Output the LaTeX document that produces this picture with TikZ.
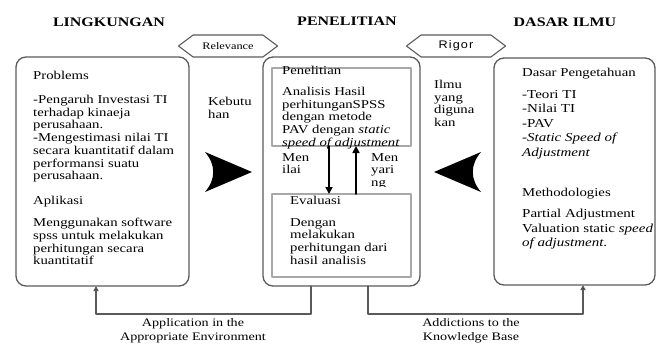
\documentclass[tikz,border=0pt]{standalone}
\usepackage{fontspec}
\setmainfont{Liberation Serif}[FakeStretch=1.23]
\newfontfamily\rigorfont{Liberation Sans}[FakeStretch=1.15,LetterSpace=10]
\usetikzlibrary{arrows.meta, shapes.symbols, positioning}
\definecolor{garis}{HTML}{5A5A5A}
\definecolor{garismuda}{HTML}{A8A8A8}
\tikzset{
  kotak/.style={draw=garis,line width=1.3pt,rounded corners=10pt,inner sep=0pt,outer sep=0pt},
  kotakdalam/.style={draw=garismuda,line width=1.4pt,fill=white,inner sep=0pt,outer sep=0pt},
  teks/.style={anchor=north west,inner sep=0pt,align=left,font=\fontsize{12}{12.7}\selectfont},
  teksbesar/.style={anchor=north west,inner sep=0pt,align=left,font=\fontsize{12.2}{14.5}\selectfont}
}

\begin{document}
\begin{tikzpicture}[
    x=1pt, y=-1pt,
    line cap=round,
    line join=round,
    judul/.style    = {font=\fontsize{13}{14}\selectfont\bfseries, inner sep=0pt},
    segienam/.style = {draw=garis, line width=1.1pt, signal, signal to=west and east,
                       signal pointer angle=74, minimum width=99pt, minimum height=22pt,
                       inner sep=0pt},
    panah/.style    = {line width=1.6pt, -{Triangle[length=7pt,width=7pt]}},
    alur/.style     = {draw=garis, line width=1.2pt, -{Triangle[length=5pt,width=5pt,fill=black]}},
    keterangan/.style = {font=\fontsize{11.5}{14}\selectfont, align=center, inner sep=0pt}
]
\useasboundingbox (0,0) rectangle (659,345);

% ---- judul ----
\node[judul] (tLing) at (109,22) {LINGKUNGAN};
\node[judul] (tPen)  at (347,21) {PENELITIAN};
\node[judul] (tDas)  at (565,22) {DASAR ILMU};

% ---- segi enam ----
\node[segienam, font=\fontsize{10}{11}\selectfont] (relevan) at (228,46) {Relevance};
\node[segienam, font=\fontsize{11}{12}\rigorfont] (rigor) at (456,46) {Rigor};

% ---- kotak lingkungan ----
\node[kotak, minimum width=173pt, minimum height=229pt] (ling) at (102.5,171.5) {};
\node[teks] (problems) at (33,71) {Problems};
\node[teks] (isiProb) at (33,95) {-Pengaruh Investasi TI\\terhadap kinaeja\\perusahaan.\\-Mengestimasi nilai TI\\secara kuantitatif dalam\\performansi suatu\\perusahaan.};
\node[teks] (aplikasi) at (33,196) {Aplikasi};
\node[teks] (isiApl) at (33,218) {Menggunakan software\\spss untuk melakukan\\perhitungan secara\\kuantitatif};

% ---- kotak penelitian ----
\node[kotak, minimum width=157pt, minimum height=229pt] (pen) at (341.5,171.5) {};
\node[kotakdalam, minimum width=139pt, minimum height=78pt] (pen1) at (341.5,107) {};
\node[teks] (penelitian) at (282,66) {Penelitian};
\node[teks] (isiPen) at (282,87) {Analisis Hasil\\perhitunganSPSS\\dengan metode\\PAV dengan \textit{static}\\\textit{speed of adjustment}};
\node[teks] (menilai) at (282,153) {Men\\ilai};
\begin{scope}
  \clip (360,148) rectangle (405,186);
  \node[teks] (menyari) at (371,153) {Men\\yari\\ng};
\end{scope}
\node[kotakdalam, minimum width=139pt, minimum height=83pt] (eval) at (341.5,235.5) {};
\node[teks] (evaluasi) at (290,196) {Evaluasi};
\node[teks] (isiEval) at (290,218) {Dengan\\melakukan\\perhitungan dari\\hasil analisis};
\draw[panah] ([xshift=-12.5pt]pen1.south) -- ([xshift=-12.5pt]eval.north);
\draw[panah] ([xshift=14.5pt]eval.north) -- ([xshift=14.5pt]pen1.south);

% ---- kotak dasar ilmu ----
\node[kotak, minimum width=161pt, minimum height=227pt] (dasar) at (574.5,171.5) {};
\node[teks] (dasarPeng) at (522,68) {Dasar Pengetahuan};
\node[teksbesar] (isiDasar) at (522,90) {-Teori TI\\-Nilai TI\\-PAV\\-\textit{Static  Speed of}\\\textit{Adjustment}};
\node[teks] (metode) at (522,188) {Methodologies};
\node[teksbesar] (isiMetode) at (522,209) {Partial Adjustment\\Valuation static \textit{speed}\\\textit{of adjustment}.};

% ---- label samping ----
\node[teks] (kebutuhan) at (208,97) {Kebutu\\han};
\node[teks] (ilmu) at (434,80) {Ilmu\\yang\\diguna\\kan};

% ---- panah besar ----
\fill (252,172) -- (205,152) .. controls (216,165) and (216,179) .. (205,192) -- cycle;
\fill (434,172) -- (481,152) .. controls (470,165) and (470,179) .. (481,192) -- cycle;

% ---- alur bawah ----
\draw[alur] ([xshift=-30.5pt]pen.south) -- ++(0,28) -| ([xshift=-6.5pt]ling.south);
\draw[alur] ([xshift=26.5pt]pen.south) -- ++(0,28) -| ([xshift=8.5pt]dasar.south);
\node[keterangan] (lblA) at (193,331) {Application in the\\Appropriate Environment};
\node[keterangan] (lblB) at (471,331) {Addictions to the\\Knowledge Base};

\end{tikzpicture}
\end{document}
